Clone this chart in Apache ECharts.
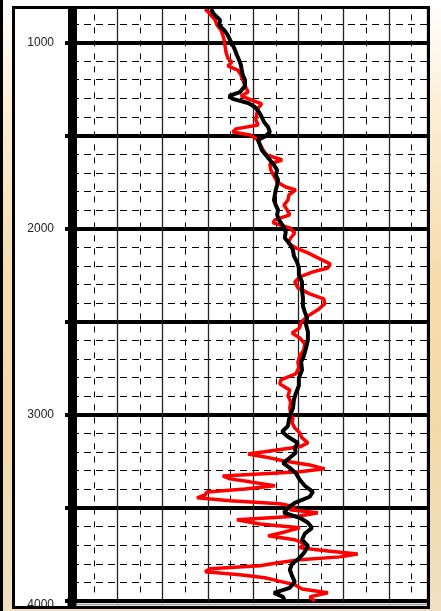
<!DOCTYPE html>
<html>
<head>
<meta charset="utf-8">
<script src="https://cdn.jsdelivr.net/npm/echarts@6/dist/echarts.min.js"></script>
<style>
html,body{margin:0;padding:0;}
body{width:441px;height:611px;overflow:hidden;
background:linear-gradient(to bottom,#ffffff 0%,#fbeed6 18%,#f6dcae 45%,#f2d9aa 70%,#efe0c2 100%);}
#chart{width:441px;height:611px;}
</style>
</head>
<body>
<div id="chart"></div>
<script>
// Depth axis (top to bottom) and thick-line depths
const depthMin = 820;
const depthMax = 4000;
const depthLabels = [1000, 2000, 3000, 4000];

// Black curve: depth and log value
const blackDepth = [820,847,879,906,933,960,986,1013,1040,1067,1094,1121,1148,1174,1201,1233,1266,1287,1303,1325,1346,1373,1400,1427,1454,1481,1502,1523,1550,1577,1604,1631,1658,1685,1711,1738,1765,1792,1819,1846,1873,1899,1926,1953,1985,2017,2050,2082,2114,2146,2179,2211,2248,2286,2329,2372,2415,2447,2479,2517,2554,2597,2640,2683,2716,2759,2802,2844,2887,2920,2963,2995,3027,3059,3091,3118,3151,3177,3204,3231,3258,3285,3312,3349,3381,3414,3440,3473,3500,3526,3553,3580,3607,3639,3671,3704,3736,3768,3800,3832,3865,3897,3929,3956,3978,4000];
const blackValue = [30.7,31.3,32.7,32.5,33.6,34.4,34.9,35.5,36.0,36.4,36.9,37.3,37.5,37.7,38.2,38.2,37.1,34.7,35.5,38.9,40.4,41.3,41.9,42.4,43.3,43.7,42.8,41.1,41.5,41.9,42.8,43.7,44.6,45.3,45.0,45.5,45.3,45.0,44.8,44.6,45.0,45.5,45.3,45.7,46.6,47.2,47.0,48.1,48.8,49.0,49.7,50.1,50.1,50.8,50.8,51.0,51.0,51.4,51.9,51.7,52.1,52.1,51.7,51.2,50.6,50.8,50.1,50.1,49.4,49.0,48.8,48.3,47.9,47.7,46.4,47.7,49.9,49.2,49.4,48.1,46.6,48.1,49.4,50.3,51.4,53.2,52.5,49.2,47.7,46.8,50.3,52.1,53.0,51.4,50.8,52.1,51.4,50.3,48.6,48.1,48.6,49.2,48.1,44.6,46.6,47.0];

// Red curve: depth and log value
const redDepth = [820,847,879,906,933,960,986,1019,1051,1083,1105,1126,1148,1174,1201,1233,1266,1287,1309,1330,1352,1384,1416,1443,1464,1481,1497,1518,1545,1577,1604,1631,1652,1685,1717,1749,1776,1792,1819,1846,1873,1899,1926,1953,1969,1996,2023,2050,2077,2103,2130,2157,2189,2211,2232,2259,2286,2318,2350,2377,2404,2436,2469,2501,2533,2560,2587,2619,2651,2683,2716,2748,2780,2812,2834,2866,2898,2930,2963,2995,3016,3043,3070,3097,3124,3151,3172,3194,3210,3226,3247,3269,3290,3306,3328,3344,3360,3381,3398,3414,3430,3446,3462,3478,3494,3510,3526,3543,3564,3586,3607,3629,3650,3671,3693,3714,3731,3747,3763,3779,3795,3811,3827,3843,3859,3875,3892,3913,3935,3956,3978,4000];
const redValue = [29.4,30.5,31.6,32.0,32.9,33.3,33.6,33.8,34.0,34.4,35.3,34.4,36.6,37.3,37.7,38.2,38.9,37.3,39.7,41.9,41.1,40.8,40.6,41.1,36.2,35.5,39.3,40.8,41.5,42.2,43.0,46.4,43.7,43.9,44.6,45.3,47.2,49.4,47.9,47.7,46.8,47.5,48.1,44.8,44.4,48.1,49.2,48.3,47.7,49.4,52.1,54.3,57.0,56.5,53.2,50.3,49.2,49.9,52.5,55.6,55.8,54.3,52.1,50.6,50.3,48.6,50.3,51.4,51.2,50.3,49.9,50.1,49.4,46.1,45.9,48.1,47.7,48.3,48.1,48.3,48.8,48.6,49.2,50.3,50.8,52.1,50.3,43.7,38.9,42.6,46.6,52.5,55.8,50.3,33.3,34.9,39.3,44.8,38.2,29.8,29.4,27.6,34.9,45.9,49.2,48.1,54.3,50.3,36.4,41.5,50.3,47.0,43.3,49.2,51.4,50.3,56.5,63.1,59.2,50.3,45.5,41.5,30.5,29.4,37.1,42.6,45.5,49.2,50.8,56.5,52.5,53.6];

const blackData = blackDepth.map((d, i) => [blackValue[i], d]);
const redData = redDepth.map((d, i) => [redValue[i], d]);

const chart = echarts.init(document.getElementById('chart'), null, {renderer: 'canvas'});

// axis starts at a multiple of 500 above the visible top; part above frame is covered
const pxPerUnit = 592 / (depthMax - depthMin);
const gridTop = 9 - (depthMin - 500) * pxPerUnit;

chart.setOption({
  backgroundColor: 'transparent',
  animation: false,
  grid: {left: 72, right: 14, top: gridTop, bottom: 10, containLabel: false, outerBoundsMode: 'none'},
  xAxis: {
    type: 'value', min: 0, max: 78.4, interval: 10,
    axisLine: {show: false}, axisTick: {show: false}, axisLabel: {show: false},
    splitLine: {show: true, lineStyle: {color: '#222', width: 1.3}},
    minorTick: {show: false, splitNumber: 2},
    minorSplitLine: {show: true, lineStyle: {color: '#000', width: 1, type: [6, 7]}}
  },
  yAxis: {
    type: 'value', inverse: true, min: 500, max: depthMax, interval: 500,
    axisLine: {show: true, lineStyle: {color: '#000', width: 9}},
    axisTick: {show: true, length: 7, lineStyle: {color: '#000', width: 4}},
    axisLabel: {
      show: true, margin: 18, color: '#222', fontSize: 12,
      fontFamily: "'Liberation Sans Narrow','Arial Narrow','Liberation Sans',sans-serif",
      formatter: v => depthLabels.indexOf(v) >= 0 ? (v === depthMax ? '{b|' + v + '}' : String(v)) : '',
      rich: {b: {fontSize: 12, color: '#222', padding: [8, 0, 0, 0],
        fontFamily: "'Liberation Sans Narrow','Arial Narrow','Liberation Sans',sans-serif"}}
    },
    splitLine: {show: true, lineStyle: {color: '#000', width: 4}},
    minorTick: {show: false, splitNumber: 5},
    minorSplitLine: {show: true, lineStyle: {color: '#000', width: 1, type: [7, 5]}}
  },
  series: [
    {type: 'line', name: 'red', data: redData, symbol: 'none', z: 3,
     lineStyle: {color: '#ff0000', width: 3.5}},
    {type: 'line', name: 'black', data: blackData, symbol: 'none', z: 4,
     lineStyle: {color: '#000000', width: 4}}
  ],
  graphic: [
    {type: 'rect', z: -100, silent: true, shape: {x: 13, y: 7, width: 415, height: 600}, style: {fill: '#ffffff'}},
    {type: 'rect', z: 100, silent: true, shape: {x: 55, y: -60, width: 380, height: 67.5}, style: {fill: '#ffffff'}},
    {type: 'rect', z: 101, silent: true, shape: {x: 67.5, y: 598, width: 9, height: 9}, style: {fill: '#000'}},
    {type: 'line', z: 101, silent: true, shape: {x1: 77, y1: 604.5, x2: 427, y2: 604.5}, style: {stroke: '#9a9a9a', lineWidth: 1.5}},
    {type: 'rect', z: 102, silent: true, shape: {x: 13.5, y: 7.5, width: 415, height: 600}, style: {fill: 'none', stroke: '#000', lineWidth: 3}},
    {type: 'rect', z: 102, silent: true, shape: {x: 0, y: 0, width: 3, height: 611}, style: {fill: '#000'}}
  ]
});
</script>
</body>
</html>
